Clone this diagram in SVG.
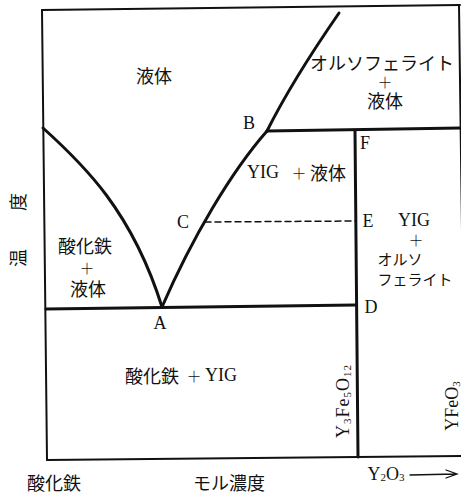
<svg xmlns="http://www.w3.org/2000/svg" width="461" height="495" viewBox="0 0 461 495">
<style>
.ln{stroke:#111;fill:none;stroke-linecap:round}
.fr{stroke-width:2}
.bd{stroke-width:3}
.ds{stroke-width:1.5;stroke-dasharray:6 4}
.t{font-family:"Liberation Serif","Noto Sans CJK JP",serif;fill:#111;text-anchor:middle;dominant-baseline:central;font-size:18px}
.j{font-family:"Noto Sans CJK JP","Liberation Serif",serif;font-size:18px}
.s{font-size:15px}
.pl{font-family:"Noto Sans CJK JP",sans-serif;font-size:15px;font-weight:300}
.st{text-anchor:start}
</style>
<rect width="461" height="495" fill="#fff"/>
<g id="frame">
<path class="ln fr" d="M42,10 L460,5"/>
<path class="ln fr" d="M42,10 L47,460"/>
<path class="ln fr" d="M47,460 L461,456"/>
<path class="ln fr" d="M459,5 L462,230"/>
</g>
<g id="connectors">
<path class="ln bd" d="M43,128 C83,164 132,211 162,307"/>
<path class="ln bd" d="M162,307 C192,238 231,172 267,131"/>
<path class="ln bd" d="M267,131 Q292,81 339,13"/>
<path class="ln bd" d="M46,309 L356,305"/>
<path class="ln bd" d="M267,131 L461,128"/>
<path class="ln bd" d="M355,131 L358,457"/>
<path class="ln ds" d="M205,222 L356,221"/>
<path class="ln" stroke-width="1.3" d="M410,475 L456,474 M446,470 L457,474 L446,478"/>
</g>
<g id="labels">
<text class="t j" x="154" y="75">液体</text>
<g id="ortho-liquid">
<text class="t j" x="382" y="62">オルソフェライト</text>
<text class="t pl" x="385" y="81">＋</text>
<text class="t j" x="385" y="100">液体</text>
</g>
<text class="t" x="249" y="123">B</text>
<text class="t" x="365" y="143">F</text>
<g id="yig-liquid">
<text class="t st" x="247" y="172">YIG</text>
<text class="t pl" x="299" y="172">＋</text>
<text class="t j st" x="310" y="172">液体</text>
</g>
<text class="t" x="183" y="222">C</text>
<text class="t" x="368" y="221">E</text>
<g id="yig-ortho">
<text class="t" x="414" y="220">YIG</text>
<text class="t pl" x="416" y="239">＋</text>
<text class="t j s" x="400" y="258">オルソ</text>
<text class="t j s" x="415" y="278">フェライト</text>
</g>
<g id="oxide-liquid">
<text class="t j" x="85" y="245">酸化鉄</text>
<text class="t pl" x="87" y="267">＋</text>
<text class="t j" x="88" y="288">液体</text>
</g>
<text class="t" x="160" y="323">A</text>
<text class="t" x="371" y="307">D</text>
<g id="oxide-yig">
<text class="t j st" x="125" y="375" font-size="19">酸化鉄</text>
<text class="t pl" x="194" y="375">＋</text>
<text class="t st" x="205" y="375">YIG</text>
</g>
<text class="t j" transform="rotate(-90 17 230)" x="17" y="230">温<tspan dx="38">度</tspan></text>
<text class="t" transform="rotate(-90 343 401)" x="343" y="401" letter-spacing="1">Y<tspan font-size="11" dy="4">3</tspan><tspan dy="-4">Fe</tspan><tspan font-size="11" dy="4">5</tspan><tspan dy="-4">O</tspan><tspan font-size="11" dy="4">12</tspan></text>
<text class="t" transform="rotate(-90 452 406)" x="452" y="406">YFeO<tspan font-size="11" dy="4">3</tspan></text>
<text class="t j" x="54" y="482" font-size="17">酸化鉄</text>
<text class="t j" x="229" y="482">モル濃度</text>
<text class="t" x="386" y="474">Y<tspan font-size="11" dy="3">2</tspan><tspan dy="-3">O</tspan><tspan font-size="11" dy="3">3</tspan></text>
</g>
</svg>
